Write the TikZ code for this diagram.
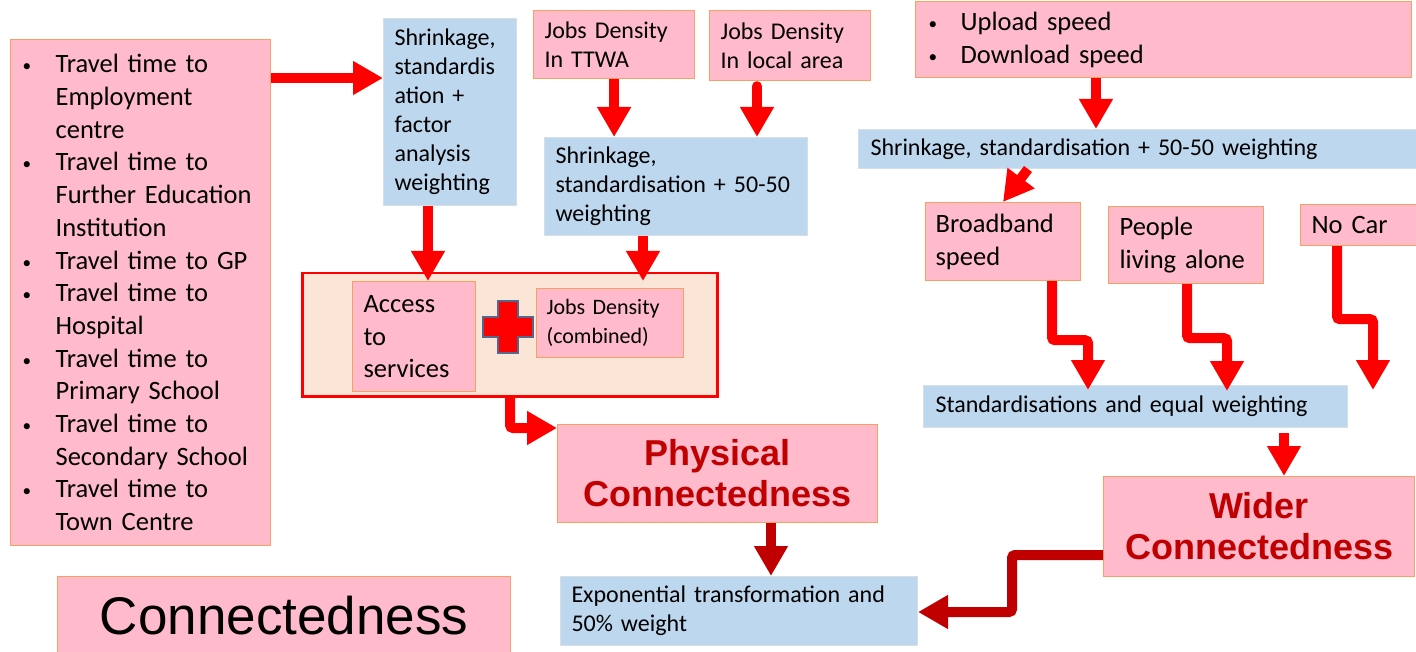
\documentclass[tikz,border=0pt]{standalone}
\usepackage{fontspec}
\usepackage{graphicx}
\setmainfont{Carlito}
\newfontfamily\arialf{Liberation Sans}
\usetikzlibrary{arrows.meta,calc}
\definecolor{pinkf}{RGB}{255,186,204}
\definecolor{orangeb}{RGB}{246,160,100}
\definecolor{bluef}{RGB}{189,215,238}
\definecolor{blueb}{RGB}{214,222,230}
\definecolor{peach}{RGB}{251,229,214}
\definecolor{arrred}{RGB}{255,0,0}
\definecolor{darkred}{RGB}{192,0,0}
\definecolor{plusb}{RGB}{80,105,140}
\newcommand\myfA{\fontsize{26.5pt}{32.7pt}\selectfont}
\newcommand\myfB{\fontsize{24pt}{29pt}\selectfont}
\newcommand\myfC{\fontsize{22pt}{29pt}\selectfont}
\newcommand\mybul{\makebox[33pt][l]{\raisebox{1pt}{\scalebox{0.65}{\textbullet}}}}
\newcommand\myind{\hspace*{33pt}}
\tikzset{
  pinkbox/.style={draw=orangeb, fill=pinkf, line width=1.2pt, anchor=north west, inner xsep=11pt, inner ysep=0pt, align=left},
  bluebox/.style={draw=blueb, fill=bluef, line width=1pt, anchor=north west, inner xsep=11pt, inner ysep=0pt, align=left},
  titlebox/.style={draw=orangeb, fill=pinkf, line width=1.2pt, anchor=north west, inner sep=0pt, align=center, text=darkred, font=\arialf\bfseries\fontsize{36pt}{41pt}\selectfont},
  fat/.style={draw=arrred, line width=10pt, -{Triangle[length=30pt,width=32pt]}},
  fatdark/.style={fat, draw=darkred}
}
\begin{document}
\begin{tikzpicture}[x=1pt,y=-1pt]
\useasboundingbox (0,0) rectangle (1416,652);
\fill[white] (0,0) rectangle (1416,652);

% left list
\node[pinkbox, minimum width=260pt, minimum height=506pt, text width=236pt, inner xsep=12pt, font=\myfA] (list) at (10,39)
{\raisebox{3pt}{\parbox{236pt}{\myfA\mybul Travel time to\\ \myind Employment\\ \myind centre\\
 \mybul Travel time to\\ \myind Further Education\\ \myind Institution\\
 \mybul Travel time to GP\\
 \mybul Travel time to\\ \myind Hospital\\
 \mybul Travel time to\\ \myind Primary School\\
 \mybul Travel time to\\ \myind Secondary School\\
 \mybul Travel time to\\ \myind Town Centre}}};

\node[bluebox, minimum width=133pt, minimum height=187pt, text width=111pt, font=\myfB] (sfa) at (383,18)
{Shrinkage,\\ standardis\\ ation +\\ factor\\ analysis\\ weighting};

\node[pinkbox, minimum width=161pt, minimum height=68pt, text width=139pt, font=\myfB] (jobsT) at (533,10)
{Jobs Density\\ In TTWA};
\node[pinkbox, minimum width=161pt, minimum height=70pt, text width=139pt, font=\myfB] (jobsL) at (709,10)
{Jobs Density\\ In local area};

\node[bluebox, minimum width=263pt, minimum height=98pt, text width=241pt, font=\myfB] (ssw) at (544,137)
{Shrinkage,\\ standardisation + 50-50\\ weighting};

\node[pinkbox, minimum width=495pt, minimum height=76pt, text width=470pt, inner xsep=13pt, font=\myfA] (upload) at (915,1)
{\makebox[32pt][l]{\raisebox{1pt}{\scalebox{0.65}{\textbullet}}}Upload speed\\ \makebox[32pt][l]{\raisebox{1pt}{\scalebox{0.65}{\textbullet}}}Download speed};

\node[bluebox, minimum width=560pt, minimum height=39pt, text width=536pt, font=\myfB] (ssl) at (858,129)
{Shrinkage, standardisation + 50-50 weighting};

\node[pinkbox, minimum width=155pt, minimum height=78pt, text width=135pt, inner xsep=10pt, font=\myfA] (broad) at (925,202)
{Broadband\\ speed};
\node[pinkbox, minimum width=155pt, minimum height=77pt, text width=133pt, font=\myfA] (people) at (1108,206)
{People\\ living alone};
\node[pinkbox, minimum width=116pt, minimum height=41pt, text width=94pt, font=\myfA] (nocar) at (1300,204)
{No Car};

\node[bluebox, minimum width=424pt, minimum height=42pt, text width=400pt, inner xsep=12pt, font=\fontsize{24pt}{28pt}\selectfont] (std) at (923,385)
{Standardisations and equal weighting};

\node[titlebox, minimum width=311pt, minimum height=100pt] (wider) at (1103,476)
{Wider\\ Connectedness};
\node[titlebox, minimum width=320pt, minimum height=98pt] (phys) at (557,424)
{Physical\\ Connectedness};

\node[bluebox, minimum width=357pt, minimum height=69pt, text width=335pt, font=\fontsize{24pt}{29pt}\selectfont] (expo) at (560,576)
{Exponential transformation and\\ 50\% weight};

\node[draw=orangeb, fill=pinkf, line width=1.2pt, anchor=north west, minimum width=453pt, minimum height=82pt, inner sep=0pt, font=\arialf\fontsize{53pt}{60pt}\selectfont] (conn) at (57,576)
{\raisebox{5pt}{Connectedness}};

% container
\node[draw=arrred, fill=peach, line width=2.5pt, anchor=north west, minimum width=415pt, minimum height=123pt, inner sep=0pt] (combo) at (301,272) {};
\node[pinkbox, minimum width=123pt, minimum height=110pt, text width=101pt, font=\myfA] (access) at (352,281)
{Access\\ to\\ services};
\node[pinkbox, minimum width=147pt, minimum height=69pt, text width=127pt, inner xsep=10pt, font=\myfC] (jobsC) at (536,288)
{Jobs Density\\ (combined)};

% plus sign
\draw[fill=arrred, draw=plusb, line width=2.5pt, line join=miter]
 (498,301) -- (518,301) -- (518,317) -- (533,317) -- (533,337) -- (518,337) -- (518,353)
 -- (498,353) -- (498,337) -- (483,337) -- (483,317) -- (498,317) -- cycle;

% arrows
\draw[fat] ([yshift=-39pt]list.north east) coordinate (a1) -- (a1 -| sfa.west);
\draw[fat] ([xshift=45pt]sfa.south west) coordinate (a2) -- (a2 |- access.north);
\draw[fat] (jobsT.south) -- (jobsT.south |- ssw.north);
\draw[fat, line cap=round] ([xshift=48pt,yshift=-5pt]jobsL.south west) coordinate (a4) -- (a4 |- ssw.north);
\draw[fat] ([xshift=99pt]ssw.south west) coordinate (a5) -- (a5 |- access.north);
\draw[fat, rounded corners=3pt] ([xshift=209pt]combo.south west) |- ([yshift=-4pt]phys.north west);
\draw[fatdark] ([xshift=214pt]phys.south west) coordinate (a7) -- (a7 |- expo.north);
\draw[fat] ([xshift=181pt]upload.south west) coordinate (a8) -- (a8 |- ssl.north);
\draw[fat] ([xshift=170pt]ssl.south west) -- ([xshift=78pt]broad.north west);
\draw[fat, rounded corners=3pt] ([xshift=127pt]broad.south west) -- ++(0,59) -| ([xshift=165pt,yshift=-5pt]std.north west);
\draw[fat, rounded corners=3pt] ([xshift=79pt]people.south west) -- ++(0,54) -| ([xshift=304pt,yshift=-6pt]std.north west);
\draw[fat, rounded corners=3pt] ([xshift=37pt]nocar.south west) -- ++(0,73) -| ([xshift=450pt,yshift=-5pt]std.north west);
\draw[fat] ([xshift=361pt,yshift=-5pt]std.south west) coordinate (a13) -- (a13 |- wider.north);
\draw[fatdark, rounded corners=3pt] ([yshift=-79pt]wider.north west) -- ++(-91,0) |- ([yshift=-36pt]expo.north east);
\end{tikzpicture}
\end{document}
